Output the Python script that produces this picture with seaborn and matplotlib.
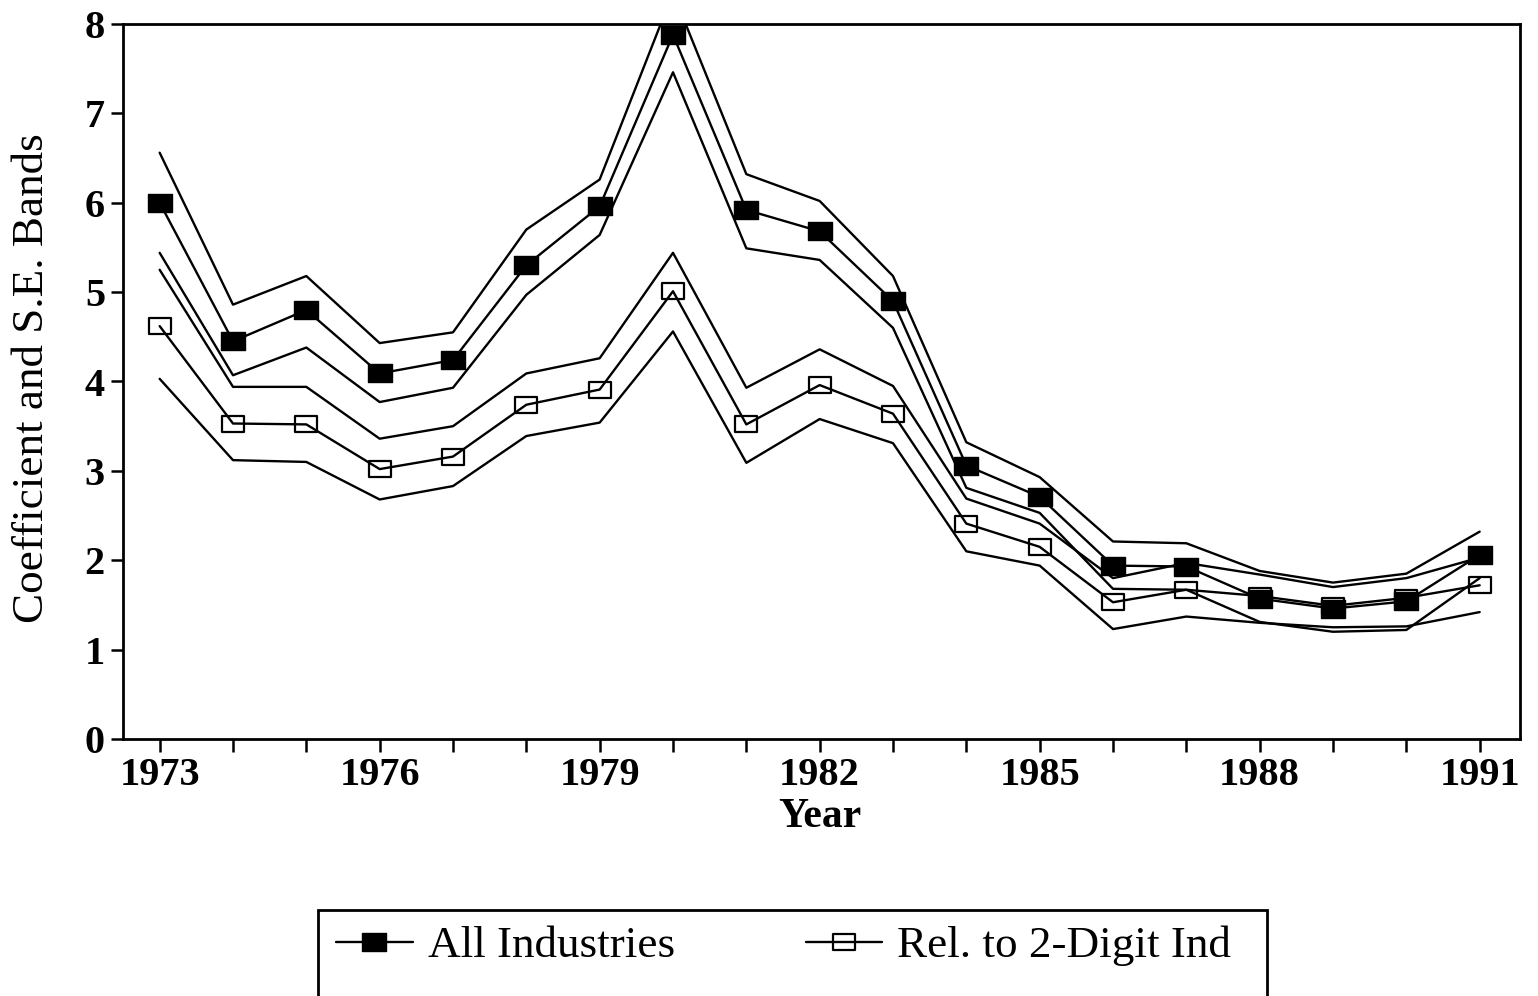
import numpy as np
import pandas as pd
import seaborn as sns
import matplotlib
matplotlib.use("Agg")
import matplotlib.pyplot as plt
from matplotlib.path import Path
from matplotlib.patches import Rectangle

# ---------------- data ----------------
years = [1973, 1974, 1975, 1976, 1977, 1978, 1979, 1980, 1981, 1982,
         1983, 1984, 1985, 1986, 1987, 1988, 1989, 1990, 1991]

all_coef = [6.00, 4.45, 4.80, 4.09, 4.24, 5.30, 5.96, 7.88, 5.92, 5.68,
            4.90, 3.06, 2.71, 1.94, 1.93, 1.57, 1.46, 1.54, 2.06]
all_upper = [6.56, 4.86, 5.18, 4.43, 4.55, 5.70, 6.26, 8.35, 6.32, 6.02,
             5.18, 3.32, 2.93, 2.21, 2.19, 1.88, 1.75, 1.85, 2.32]
all_lower = [5.44, 4.07, 4.38, 3.77, 3.93, 4.97, 5.64, 7.46, 5.49, 5.36,
             4.60, 2.81, 2.53, 1.68, 1.67, 1.31, 1.20, 1.22, 1.80]

rel_coef = [4.62, 3.53, 3.52, 3.02, 3.16, 3.74, 3.91, 5.01, 3.52, 3.96,
            3.64, 2.41, 2.15, 1.53, 1.67, 1.60, 1.49, 1.58, 1.72]
rel_upper = [5.25, 3.94, 3.94, 3.36, 3.50, 4.09, 4.26, 5.44, 3.93, 4.36,
             3.95, 2.69, 2.41, 1.80, 1.97, 1.84, 1.70, 1.80, 2.03]
rel_lower = [4.03, 3.12, 3.10, 2.68, 2.83, 3.39, 3.54, 4.56, 3.09, 3.58,
             3.31, 2.10, 1.94, 1.23, 1.37, 1.30, 1.25, 1.26, 1.42]

series_labels = ["All Industries", "Rel. to 2-Digit Ind"]
y_ticks = [0, 1, 2, 3, 4, 5, 6, 7, 8]
x_label_years = [1973, 1976, 1979, 1982, 1985, 1988, 1991]
x_title = "Year"
y_title = "Coefficient and S.E. Bands"

# ---------------- style ----------------
sns.set_theme(style="ticks")
plt.rcParams["font.family"] = ["Liberation Serif", "DejaVu Serif"]
plt.rcParams["text.color"] = "black"
plt.rcParams["axes.labelcolor"] = "black"
plt.rcParams["xtick.color"] = "black"
plt.rcParams["ytick.color"] = "black"

fig = plt.figure(figsize=(15.38, 9.96), dpi=100)
ax = fig.add_axes([123 / 1538, 1 - 739 / 996, (1520 - 123) / 1538, (739 - 24) / 996])

rect_marker = Path([(-1.2, -0.85), (1.2, -0.85), (1.2, 0.85), (-1.2, 0.85), (-1.2, -0.85)],
                   [Path.MOVETO, Path.LINETO, Path.LINETO, Path.LINETO, Path.CLOSEPOLY])

df = pd.DataFrame({"year": years,
                   "all_coef": all_coef, "all_upper": all_upper, "all_lower": all_lower,
                   "rel_coef": rel_coef, "rel_upper": rel_upper, "rel_lower": rel_lower})

lw = 1.7
for col in ["all_upper", "all_lower", "rel_upper", "rel_lower"]:
    sns.lineplot(data=df, x="year", y=col, ax=ax, color="black", linewidth=lw)

sns.lineplot(data=df, x="year", y="all_coef", ax=ax, color="black", linewidth=lw,
             marker=rect_marker, markersize=17.5, markerfacecolor="black",
             markeredgecolor="black", markeredgewidth=1.0, label=series_labels[0])
sns.lineplot(data=df, x="year", y="rel_coef", ax=ax, color="black", linewidth=lw,
             marker=rect_marker, markersize=16.5, markerfacecolor="none",
             markeredgecolor="black", markeredgewidth=1.6, label=series_labels[1])

handles, labels = ax.get_legend_handles_labels()
if ax.get_legend() is not None:
    ax.get_legend().remove()

ax.set_xlim(1972.5, 1991.55)
ax.set_ylim(0, 8)
ax.set_yticks(y_ticks)
ax.set_yticklabels([str(v) for v in y_ticks])
ax.set_xticks(years)
ax.set_xticklabels([str(y) if y in x_label_years else "" for y in years])

for s in ["left", "right", "top", "bottom"]:
    ax.spines[s].set_visible(True)
    ax.spines[s].set_linewidth(2.0)
    ax.spines[s].set_color("black")

ax.tick_params(axis="both", direction="out", length=9, width=1.8, color="black",
               labelcolor="black", labelsize=29, pad=4)
for t in ax.get_xticklabels() + ax.get_yticklabels():
    t.set_fontweight("bold")

ax.set_xlabel(x_title, fontsize=30, fontweight="bold", color="black")
ax.set_ylabel(y_title, fontsize=32.5, fontweight="normal", color="black")
ax.xaxis.set_label_coords(0.499, -0.083)
ax.yaxis.set_label_coords(-0.051, 0.505)
ax.grid(False)

# ---------------- legend ----------------
leg = fig.legend(handles, labels, loc="center left",
                 bbox_to_anchor=(336 / 1538, 1 - 946 / 996),
                 ncol=2, frameon=False, fontsize=32.5, handlelength=1.7,
                 handletextpad=0.33, columnspacing=2.9, borderpad=0,
                 borderaxespad=0)
for t in leg.get_texts():
    t.set_color("black")
frame = Rectangle((318 / 1538, -0.05), (1267 - 318) / 1538, (1 - 910 / 996) + 0.05,
                  transform=fig.transFigure, fill=False, edgecolor="black",
                  linewidth=2.0)
fig.add_artist(frame)

fig.savefig("out.png", dpi=100, facecolor="white")
